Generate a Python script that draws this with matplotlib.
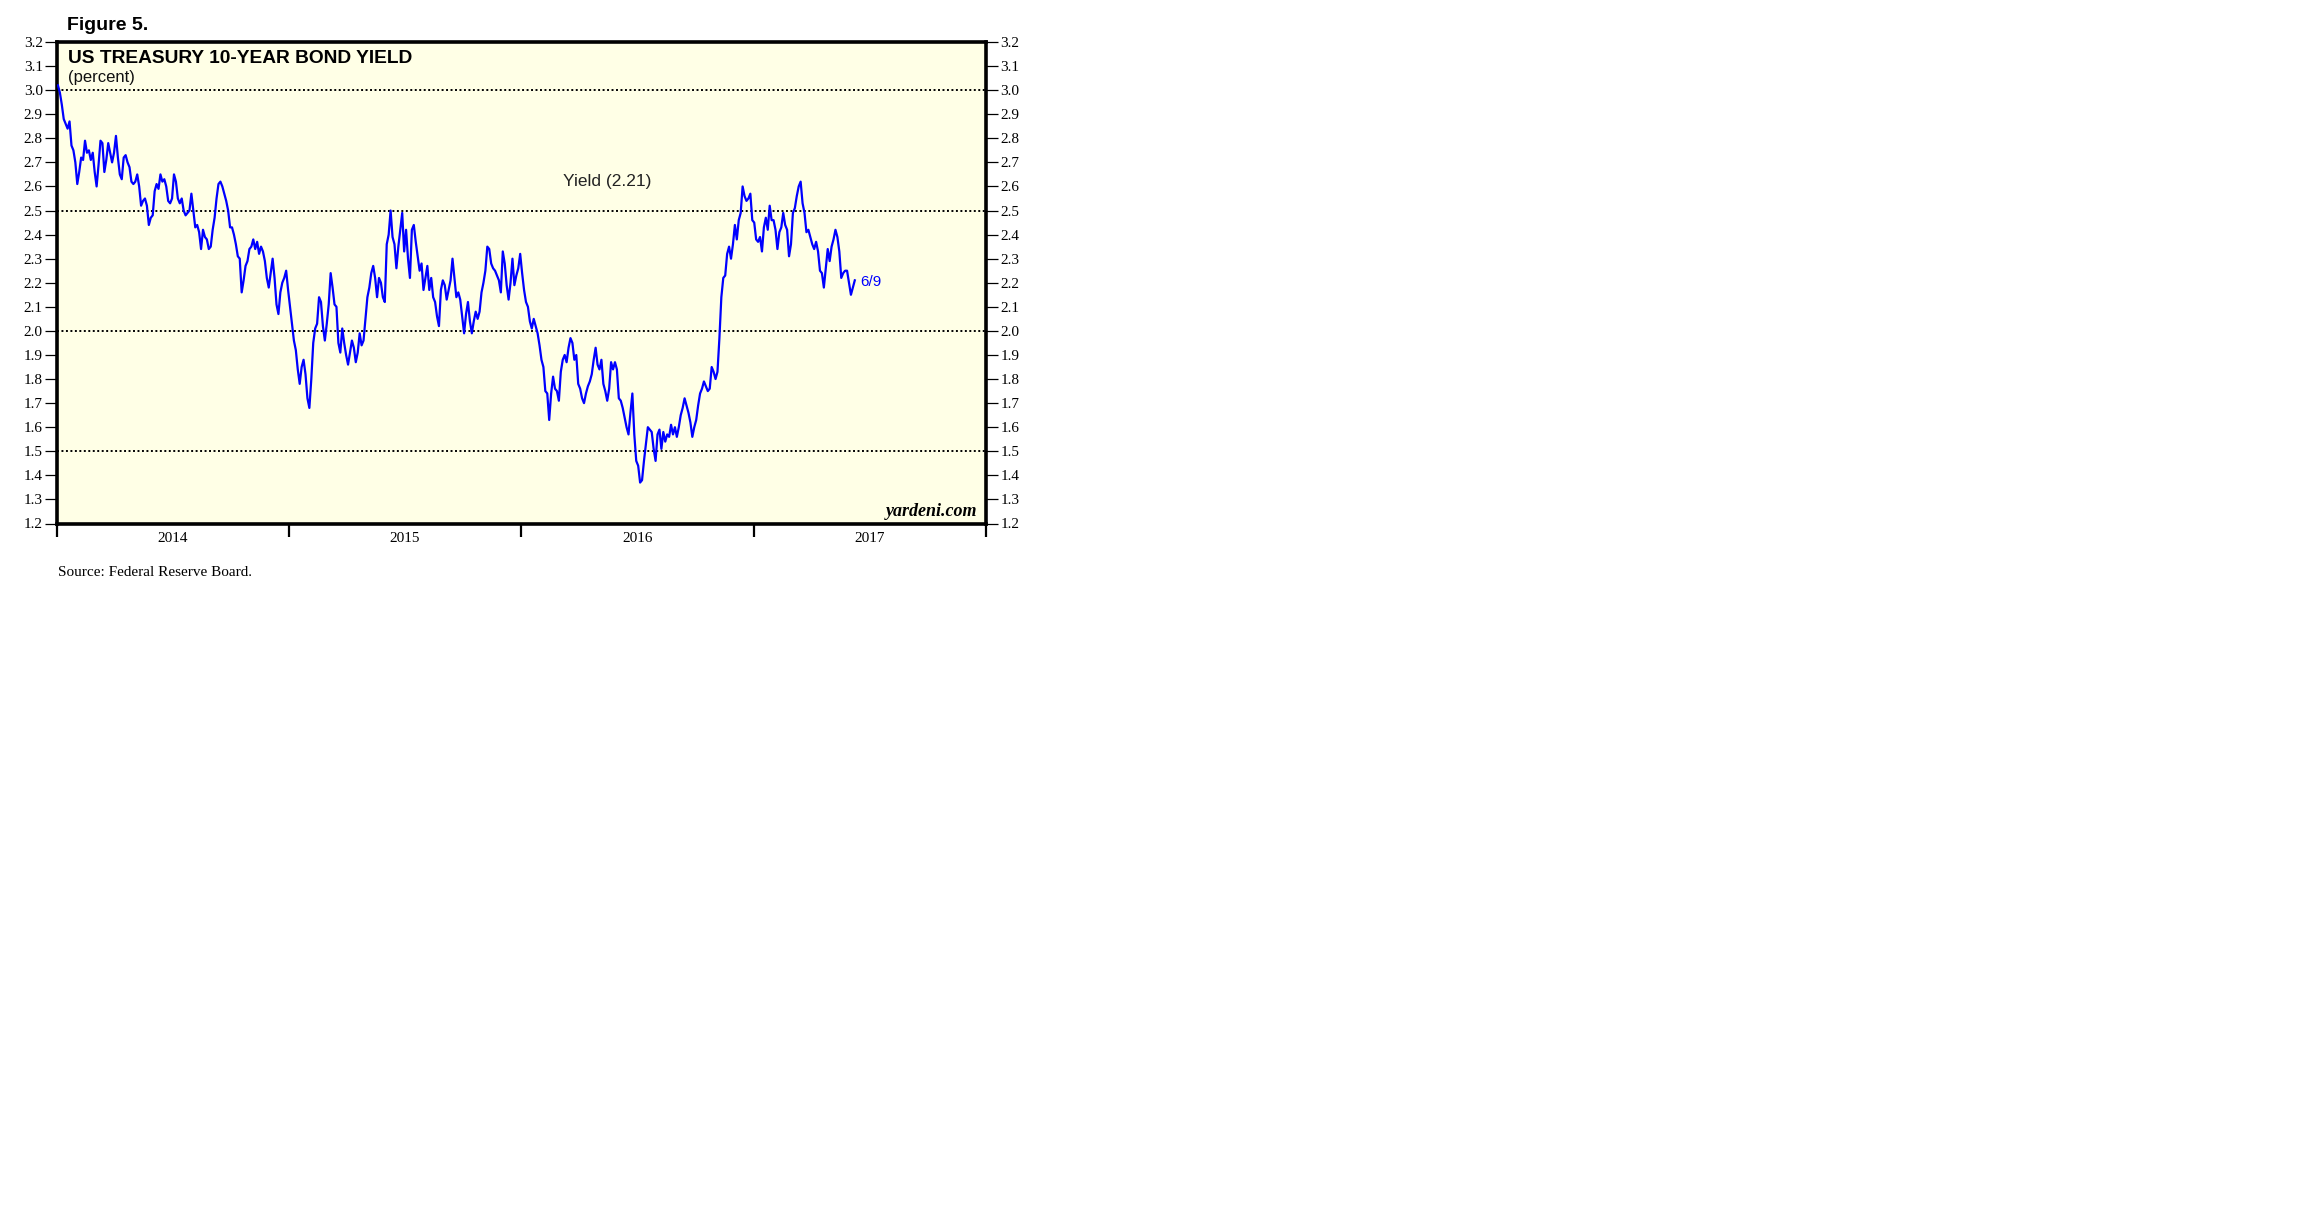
import numpy as np
import pandas as pd
import matplotlib
matplotlib.use("Agg")
import matplotlib.pyplot as plt

# ---- data: US Treasury 10-year yield (percent), ~10 readings per month ----
y2014 = [3.02, 2.99, 2.94, 2.88, 2.86, 2.84, 2.87, 2.77, 2.75, 2.70,
         2.61, 2.66, 2.72, 2.71, 2.79, 2.74, 2.75, 2.71, 2.74, 2.66,
         2.60, 2.69, 2.79, 2.78, 2.66, 2.71, 2.78, 2.74, 2.70, 2.74,
         2.81, 2.72, 2.65, 2.63, 2.72, 2.73, 2.70, 2.68, 2.62, 2.61,
         2.62, 2.65, 2.60, 2.52, 2.54, 2.55, 2.52, 2.44, 2.47, 2.48,
         2.58, 2.61, 2.59, 2.65, 2.62, 2.63, 2.60, 2.54, 2.53, 2.55,
         2.65, 2.62, 2.55, 2.53, 2.55, 2.50, 2.48, 2.49, 2.50, 2.57,
         2.50, 2.43, 2.44, 2.41, 2.34, 2.42, 2.39, 2.38, 2.34, 2.35,
         2.42, 2.47, 2.55, 2.61, 2.62, 2.60, 2.57, 2.54, 2.50, 2.43,
         2.43, 2.40, 2.36, 2.31, 2.30, 2.16, 2.21, 2.27, 2.29, 2.34,
         2.35, 2.38, 2.34, 2.37, 2.32, 2.35, 2.33, 2.29, 2.22, 2.18,
         2.24, 2.30, 2.22, 2.11, 2.07, 2.16, 2.20, 2.22, 2.25, 2.17]
y2015 = [2.10, 2.03, 1.96, 1.92, 1.84, 1.78, 1.85, 1.88, 1.82, 1.72,
         1.68, 1.80, 1.95, 2.01, 2.03, 2.14, 2.12, 2.02, 1.96, 2.03,
         2.11, 2.24, 2.18, 2.11, 2.10, 1.95, 1.91, 2.01, 1.95, 1.90,
         1.86, 1.91, 1.96, 1.93, 1.87, 1.91, 1.99, 1.94, 1.96, 2.05,
         2.14, 2.18, 2.24, 2.27, 2.22, 2.14, 2.22, 2.20, 2.14, 2.12,
         2.36, 2.40, 2.50, 2.39, 2.36, 2.26, 2.35, 2.42, 2.49, 2.33,
         2.42, 2.30, 2.22, 2.42, 2.44, 2.37, 2.31, 2.25, 2.28, 2.17,
         2.22, 2.27, 2.17, 2.22, 2.14, 2.12, 2.06, 2.02, 2.17, 2.21,
         2.19, 2.13, 2.17, 2.21, 2.30, 2.22, 2.14, 2.16, 2.13, 2.06,
         1.99, 2.07, 2.12, 2.04, 1.99, 2.04, 2.08, 2.05, 2.08, 2.16,
         2.20, 2.25, 2.35, 2.34, 2.28, 2.26, 2.25, 2.23, 2.21, 2.16,
         2.33, 2.28, 2.19, 2.13, 2.20, 2.30, 2.19, 2.23, 2.26, 2.32]
y2016 = [2.24, 2.17, 2.12, 2.10, 2.04, 2.01, 2.05, 2.02, 1.99, 1.94,
         1.88, 1.85, 1.75, 1.74, 1.63, 1.74, 1.81, 1.76, 1.75, 1.71,
         1.83, 1.88, 1.90, 1.87, 1.93, 1.97, 1.95, 1.88, 1.90, 1.78,
         1.76, 1.72, 1.70, 1.74, 1.77, 1.79, 1.82, 1.88, 1.93, 1.86,
         1.84, 1.88, 1.78, 1.75, 1.71, 1.76, 1.87, 1.84, 1.87, 1.84,
         1.72, 1.71, 1.68, 1.64, 1.60, 1.57, 1.66, 1.74, 1.57, 1.46,
         1.44, 1.37, 1.38, 1.46, 1.53, 1.60, 1.59, 1.58, 1.51, 1.46,
         1.57, 1.59, 1.51, 1.58, 1.54, 1.57, 1.56, 1.61, 1.57, 1.60,
         1.56, 1.60, 1.65, 1.68, 1.72, 1.69, 1.66, 1.62, 1.56, 1.60,
         1.63, 1.69, 1.74, 1.76, 1.79, 1.77, 1.75, 1.76, 1.85, 1.83,
         1.80, 1.83, 1.97, 2.14, 2.22, 2.23, 2.32, 2.35, 2.30, 2.36,
         2.44, 2.38, 2.46, 2.49, 2.60, 2.56, 2.54, 2.55, 2.57, 2.46]
y2017 = [2.45, 2.38, 2.37, 2.39, 2.33, 2.43, 2.47, 2.42, 2.52, 2.46,
         2.46, 2.42, 2.34, 2.41, 2.43, 2.49, 2.44, 2.42, 2.31, 2.36,
         2.49, 2.51, 2.56, 2.60, 2.62, 2.53, 2.49, 2.41, 2.42, 2.39,
         2.36, 2.34, 2.37, 2.33, 2.25, 2.24, 2.18, 2.26, 2.34, 2.29,
         2.35, 2.38, 2.42, 2.39, 2.33, 2.22, 2.24, 2.25, 2.25, 2.20,
         2.15, 2.18, 2.21]
start_date = "2014-01-02"
end_date = "2017-06-09"
year_labels = ["2014", "2015", "2016", "2017"]
y_ticks = [round(1.2 + 0.1 * i, 1) for i in range(21)]
ref_levels = [1.5, 2.0, 2.5, 3.0]

values = np.array(y2014 + y2015 + y2016 + y2017)
dates = pd.date_range(start_date, end_date, periods=len(values))

W, H = 2304, 1228
fig = plt.figure(figsize=(W / 100, H / 100), dpi=100)
fig.patch.set_facecolor("white")

L, R, T, B = 57.3, 985.7, 42.0, 523.5
ax = fig.add_axes([L / W, 1 - B / H, (R - L) / W, (B - T) / H])
ax.set_facecolor("#FFFFE6")

for lv in ref_levels:
    ax.axhline(lv, color="black", lw=1.4, ls=(0, (1, 1.3)), zorder=1)

ax.plot(dates, values, color="#0000FF", lw=1.6, zorder=3)

ax.set_ylim(1.2, 3.2)
ax.set_yticks(y_ticks)
ax.set_yticklabels([f"{v:.1f}" for v in y_ticks])
ax.tick_params(axis="y", which="major", direction="out", length=8.5, width=0.9,
               pad=2, left=True, right=True, labelleft=True, labelright=True,
               labelsize=11)
for lab in ax.get_yticklabels():
    lab.set_fontfamily("Liberation Serif")

x0 = pd.Timestamp("2014-01-01")
x1 = pd.Timestamp("2018-01-01")
ax.set_xlim(x0, x1)
major = [pd.Timestamp(f"{y}-01-01") for y in range(2014, 2019)]
ax.set_xticks(major)
ax.set_xticklabels([""] * len(major))
minor = [pd.Timestamp(f"{y}-07-02") for y in year_labels]
ax.set_xticks(minor, minor=True)
ax.set_xticklabels(year_labels, minor=True, fontfamily="Liberation Serif", fontsize=11)
ax.tick_params(axis="x", which="major", direction="out", length=9.5, width=1.6)
ax.tick_params(axis="x", which="minor", length=0, pad=6)

for s in ax.spines.values():
    s.set_linewidth(2.6)
    s.set_color("black")

# texts
fig.text(67 / W, 1 - 30 / H, "Figure 5.", fontfamily="Liberation Sans",
         fontweight="bold", fontsize=14, va="baseline", ha="left")
fig.text(68 / W, 1 - 63 / H, "US TREASURY 10-YEAR BOND YIELD", fontfamily="Liberation Sans",
         fontweight="bold", fontsize=13.8, va="baseline", ha="left")
fig.text(68 / W, 1 - 82 / H, "(percent)", fontfamily="Liberation Sans",
         fontsize=12, va="baseline", ha="left", color="#111111")
fig.text(563 / W, 1 - 186 / H, "Yield (2.21)", fontfamily="Liberation Sans",
         fontsize=12.5, va="baseline", ha="left", color="#222222")
fig.text(860 / W, 1 - 286 / H, "6/9", fontfamily="Liberation Sans",
         fontsize=11, va="baseline", ha="left", color="#0000FF")
fig.text(977 / W, 1 - 516 / H, "yardeni.com", fontfamily="Liberation Serif",
         fontstyle="italic", fontweight="bold", fontsize=13, va="baseline", ha="right")
fig.text(57.5 / W, 1 - 576 / H, "Source: Federal Reserve Board.", fontfamily="Liberation Serif",
         fontsize=11, va="baseline", ha="left")

fig.savefig("out.png", dpi=100, facecolor="white")
